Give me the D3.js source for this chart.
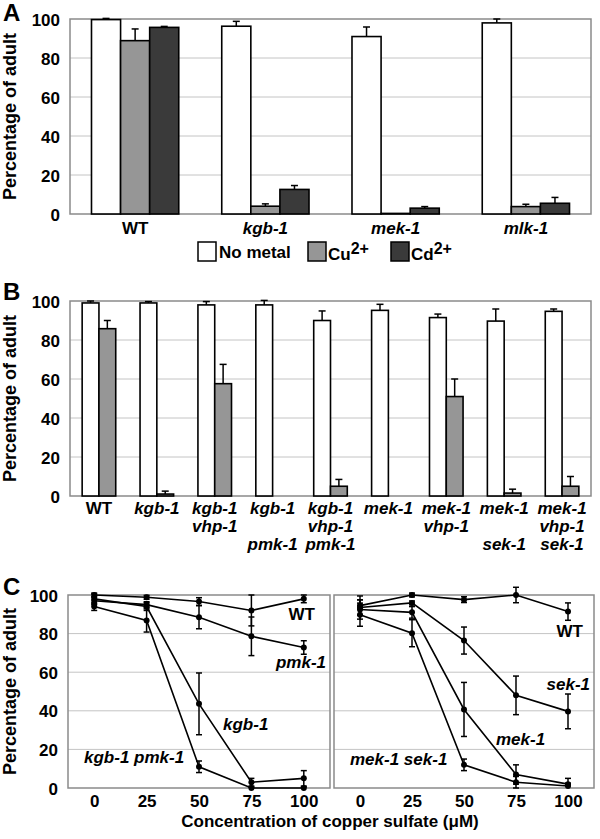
<!DOCTYPE html>
<html><head><meta charset="utf-8">
<script src="https://cdn.jsdelivr.net/npm/d3@7"></script>
<style>
body{margin:0;background:#fff}
svg{display:block}
text{font-family:"Liberation Sans",Arial,Helvetica,sans-serif;font-weight:bold;fill:#000}
</style>
</head><body><svg id="chart" width="600" height="839"></svg>
<script>
// ---------- DATA ----------
const yTicks = [0, 20, 40, 60, 80, 100];

// Panel A
const aCategories = ["WT", "kgb-1", "mek-1", "mlk-1"];
const aSeries = ["No metal", "Cu", "Cd"];
const aNoMetal = [99.7, 96.3, 91.0, 98.0];
const aNoMetalErr = [0.6, 2.5, 4.9, 2.0];
const aCu = [88.9, 4.0, 0.3, 3.8];
const aCuErr = [6.0, 1.2, 0, 1.2];
const aCd = [95.7, 12.6, 3.0, 5.5];
const aCdErr = [0.5, 2.0, 0.8, 3.0];

// Panel B
const bCategories = [["WT"], ["kgb-1"], ["kgb-1", "vhp-1"], ["kgb-1", "", "pmk-1"], ["kgb-1", "vhp-1", "pmk-1"],
  ["mek-1"], ["mek-1", "vhp-1"], ["mek-1", "", "sek-1"], ["mek-1", "vhp-1", "sek-1"]];
const bSeries = ["No metal", "Cu"];
const bNoMetal = [99.0, 99.0, 98.0, 98.0, 90.0, 95.2, 91.5, 89.7, 94.7];
const bNoMetalErr = [1.0, 0.7, 1.7, 2.3, 4.9, 3.1, 1.8, 6.2, 1.2];
const bCu = [85.8, 1.0, 57.6, 0, 5.0, 0, 51.0, 1.5, 5.0];
const bCuErr = [4.2, 1.5, 9.9, 0, 3.5, 0, 9.0, 2.0, 5.0];

// Panel C
const cConc = [0, 25, 50, 75, 100];
const cLeftNames = ["WT", "pmk-1", "kgb-1", "kgb-1 pmk-1"];
const cLeftValues = [
  [100, 98.8, 96.6, 92.0, 98.0],
  [97.0, 95.0, 88.5, 78.6, 72.8],
  [98.0, 94.0, 43.6, 3.0, 5.0],
  [94.0, 86.8, 11.0, 0, 0]
];
const cLeftErr = [
  [1.0, 1.0, 2.0, 8.0, 2.0],
  [2.0, 1.5, 6.0, 10.0, 3.5],
  [2.5, 2.0, 16.0, 2.0, 4.0],
  [2.0, 6.0, 3.0, 0.5, 0.5]
];
const cRightNames = ["WT", "sek-1", "mek-1", "mek-1 sek-1"];
const cRightValues = [
  [94.5, 100, 97.6, 100, 91.4],
  [93.5, 95.9, 76.4, 48.0, 39.7],
  [92.5, 91.0, 40.7, 7.0, 2.0],
  [89.8, 80.2, 12.0, 3.0, 1.0]
];
const cRightErr = [
  [5.0, 1.0, 1.5, 4.0, 4.5],
  [4.0, 1.0, 7.0, 10.0, 9.0],
  [5.0, 3.0, 14.0, 5.0, 3.0],
  [6.0, 7.0, 3.0, 3.0, 1.5]
];

// ---------- STYLE ----------
const FS = 17;
const fills = {"No metal": "#ffffff", "Cu": "#969696", "Cd": "#3a3a3a"};
const gridColor = "#c4c4c4", frameColor = "#8a8a8a";

const svg = d3.select("#chart");

function frameAndGrid(x0, x1, y) {
  const g = svg.append("g");
  g.selectAll("line.grid").data(yTicks.filter(t => t > 0 && t < 100)).join("line")
    .attr("x1", x0).attr("x2", x1).attr("y1", d => y(d)).attr("y2", d => y(d))
    .attr("stroke", gridColor).attr("stroke-width", 1);
  g.append("rect").attr("x", x0).attr("y", y(100)).attr("width", x1 - x0).attr("height", y(0) - y(100))
    .attr("fill", "none").attr("stroke", frameColor).attr("stroke-width", 1.5);
}

function yAxis(x0, y) {
  const g = svg.append("g").attr("transform", `translate(${x0},0)`)
    .call(d3.axisLeft(y).tickValues(yTicks).tickSize(0).tickPadding(10));
  g.select(".domain").remove();
  g.selectAll("text").attr("font-size", FS).attr("dy", "0.36em");
}

function yTitle(xb, cy) {
  svg.append("text").attr("transform", `translate(${xb},${cy}) rotate(-90)`)
    .attr("text-anchor", "middle").attr("font-size", 18).text("Percentage of adult");
}

function panelLetter(t, x, yb) {
  svg.append("text").attr("x", x).attr("y", yb).attr("font-size", 24).text(t);
}

function bars(x0, x1, y, cats, seriesNames, vals, errs, capW) {
  const g = svg.append("g");
  cats.forEach((c, i) => {
    seriesNames.forEach((s, j) => {
      const v = vals[j][i], e = errs[j][i];
      const bx = x0(i) + x1(s), bw = x1.bandwidth();
      if (e > 0) {
        const cx = bx + bw / 2;
        g.append("line").attr("x1", cx).attr("x2", cx).attr("y1", y(v)).attr("y2", y(v + e))
          .attr("stroke", "#000").attr("stroke-width", 1.5);
        g.append("line").attr("x1", cx - capW / 2).attr("x2", cx + capW / 2).attr("y1", y(v + e)).attr("y2", y(v + e))
          .attr("stroke", "#000").attr("stroke-width", 1.5);
      }
      g.append("rect").attr("x", bx).attr("width", bw).attr("y", y(v)).attr("height", y(0) - y(v))
        .attr("fill", fills[s]).attr("stroke", "#000").attr("stroke-width", 1.6);
    });
  });
}

// ---------- PANEL A ----------
{
  const L = 70, R = 591;
  const y = d3.scaleLinear().domain([0, 100]).range([214, 19]);
  const x0 = d3.scaleBand().domain(d3.range(aCategories.length)).range([L, R]).paddingInner(0.33).paddingOuter(0.165);
  const x1 = d3.scaleBand().domain(aSeries).range([0, x0.bandwidth()]);
  frameAndGrid(L, R, y);
  yAxis(L, y);
  bars(x0, x1, y, aCategories, aSeries, [aNoMetal, aCu, aCd], [aNoMetalErr, aCuErr, aCdErr], 7);
  const ax = svg.append("g").attr("transform", `translate(0,${y(0)})`)
    .call(d3.axisBottom(x0).tickSize(0).tickPadding(8).tickFormat(i => aCategories[i]));
  ax.select(".domain").remove();
  ax.selectAll("text").attr("font-size", FS).attr("font-style", i => aCategories[i] === "WT" ? "normal" : "italic");
  yTitle(16, (y(0) + y(100)) / 2);
  panelLetter("A", 3, 21);
  // legend
  const leg = [{s: "No metal", x: 198}, {s: "Cu", x: 308}, {s: "Cd", x: 391}];
  leg.forEach(d => {
    svg.append("rect").attr("x", d.x).attr("y", 242).attr("width", 18).attr("height", 19)
      .attr("fill", fills[d.s]).attr("stroke", "#000").attr("stroke-width", 1.5);
    if (d.s === "No metal") {
      svg.append("text").attr("x", d.x + 21).attr("y", 258).attr("font-size", FS).text(d.s);
    } else {
      const t = svg.append("text").attr("x", d.x + 20).attr("y", 260).attr("font-size", FS)
        .attr("font-weight", "normal").text(d.s);
      t.append("tspan").attr("dy", -6).attr("font-weight", "bold").attr("font-size", 16).text("2+");
    }
  });
}

// ---------- PANEL B ----------
{
  const L = 70, R = 591;
  const y = d3.scaleLinear().domain([0, 100]).range([496, 301]);
  const x0 = d3.scaleBand().domain(d3.range(bCategories.length)).range([L, R]).paddingInner(0.42).paddingOuter(0.21);
  const x1 = d3.scaleBand().domain(bSeries).range([0, x0.bandwidth()]);
  frameAndGrid(L, R, y);
  yAxis(L, y);
  bars(x0, x1, y, bCategories, bSeries, [bNoMetal, bCu], [bNoMetalErr, bCuErr], 7);
  const ax = svg.append("g").attr("transform", `translate(0,${y(0)})`)
    .call(d3.axisBottom(x0).tickSize(0).tickPadding(7).tickFormat(() => ""));
  ax.select(".domain").remove();
  ax.selectAll(".tick text").each(function(i) {
    const t = d3.select(this).attr("font-size", FS).attr("dy", null).attr("y", null);
    bCategories[i].forEach((line, k) => {
      if (!line) return;
      t.append("tspan").attr("x", 0).attr("y", 18 + k * 18)
        .attr("font-style", line === "WT" ? "normal" : "italic").text(line);
    });
  });
  yTitle(16, (y(0) + y(100)) / 2);
  panelLetter("B", 3, 300);
}

// ---------- PANEL C ----------
function linePanel(L, R, y, names, values, errs, labels, showY) {
  const x = d3.scalePoint().domain(cConc).range([L, R]).padding(0.5);
  frameAndGrid(L, R, y);
  if (showY) yAxis(L, y);
  const g = svg.append("g");
  const line = d3.line().x((d, i) => x(cConc[i])).y(d => y(d));
  values.forEach((vals, si) => {
    vals.forEach((v, i) => {
      const e = errs[si][i], cx = x(cConc[i]);
      g.append("line").attr("x1", cx).attr("x2", cx).attr("y1", y(Math.max(0, v - e))).attr("y2", y(v + e))
        .attr("stroke", "#000").attr("stroke-width", 1.5);
      [v - e, v + e].forEach(ev => {
        if (ev < 0) return;
        g.append("line").attr("x1", cx - 3).attr("x2", cx + 3).attr("y1", y(ev)).attr("y2", y(ev))
          .attr("stroke", "#000").attr("stroke-width", 1.5);
      });
    });
    g.append("path").datum(vals).attr("d", line).attr("fill", "none").attr("stroke", "#000").attr("stroke-width", 1.6);
    g.selectAll(null).data(vals).join("circle").attr("cx", (d, i) => x(cConc[i])).attr("cy", d => y(d))
      .attr("r", 3).attr("fill", "#000");
  });
  const ax = svg.append("g").attr("transform", `translate(0,${y(0)})`)
    .call(d3.axisBottom(x).tickSize(0).tickPadding(7));
  ax.select(".domain").remove();
  ax.selectAll("text").attr("font-size", FS);
  labels.forEach(l => {
    svg.append("text").attr("x", l.x).attr("y", l.y).attr("font-size", FS).attr("text-anchor", l.a)
      .attr("font-style", l.t === "WT" ? "normal" : "italic").text(l.t);
  });
}
{
  const y = d3.scaleLinear().domain([0, 100]).range([788, 595]);
  linePanel(68, 330, y, cLeftNames, cLeftValues, cLeftErr, [
    {t: cLeftNames[0], x: 315, y: 620, a: "end"},
    {t: cLeftNames[1], x: 326, y: 668, a: "end"},
    {t: cLeftNames[2], x: 223, y: 730, a: "start"},
    {t: cLeftNames[3], x: 84, y: 763, a: "start"}
  ], true);
  linePanel(334, 594, y, cRightNames, cRightValues, cRightErr, [
    {t: cRightNames[0], x: 583, y: 637, a: "end"},
    {t: cRightNames[1], x: 590, y: 690, a: "end"},
    {t: cRightNames[2], x: 496, y: 745, a: "start"},
    {t: cRightNames[3], x: 350, y: 765, a: "start"}
  ], false);
  yTitle(16, (y(0) + y(100)) / 2);
  panelLetter("C", 3, 595);
  svg.append("text").attr("x", 330).attr("y", 827).attr("text-anchor", "middle").attr("font-size", FS)
    .text("Concentration of copper sulfate (\u03BCM)");
}
</script>
</body></html>
